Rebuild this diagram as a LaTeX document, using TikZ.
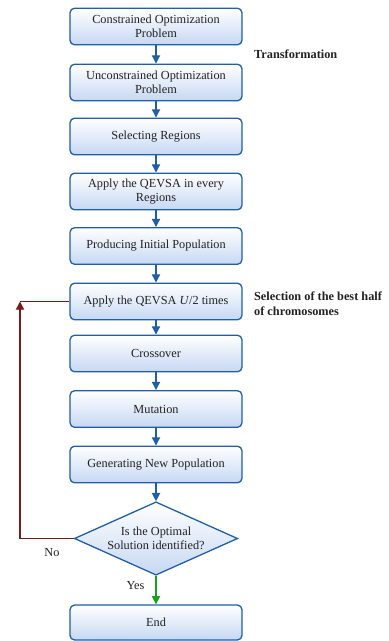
\documentclass[tikz,border=0pt]{standalone}
\usepackage{fontspec}
\setmainfont{Liberation Serif}
\usetikzlibrary{arrows.meta, positioning, shapes.geometric}
\definecolor{fcblue}{HTML}{1F5FA8}
\definecolor{fcfill}{HTML}{C6D8F3}
\definecolor{fcred}{HTML}{7B1A1A}
\definecolor{fcgreen}{HTML}{1E9E1E}
\definecolor{fctext}{HTML}{222222}

\begin{document}
\begin{tikzpicture}[
  x=0.03cm, y=-0.03cm,
  every node/.style={font=\fontsize{10.5}{12}\selectfont, text=fctext},
  sbox/.style={rectangle, rounded corners=4pt, draw=fcblue, line width=1.1pt, top color=white, bottom color=fcfill, minimum width=5.16cm, minimum height=1.1cm, align=center},
  dbox/.style={diamond, draw=fcblue, line width=1.1pt, top color=white, bottom color=fcfill, minimum width=4.9cm, minimum height=2.2cm, aspect=2.2, inner sep=0pt, align=center},
  flow/.style={-{Triangle[width=7pt,length=7pt]}, fcblue, line width=1.1pt},
  note/.style={font=\fontsize{10.5}{13}\selectfont\bfseries, anchor=west, align=left},
]
\useasboundingbox (0,0) rectangle (388,641);

% Main steps
\node[sbox] (s1) at (156, 26.5) {Constrained Optimization\\Problem};
\node[sbox] (s2) at (156, 82.5) {Unconstrained Optimization\\Problem};
\node[sbox] (s3) at (156, 136.5) {Selecting Regions};
\node[sbox] (s4) at (156, 191.5) {Apply the QEVSA in every\\Regions};
\node[sbox] (s5) at (156, 246) {Producing Initial Population};
\node[sbox] (s6) at (156, 301.5) {Apply the QEVSA \textit{U}/2 times};
\node[sbox] (s7) at (156, 353.5) {Crossover};
\node[sbox] (s8) at (156, 409) {Mutation};
\node[sbox] (s9) at (156, 464.5) {Generating New Population};

% Decision and end
\node[dbox] (dec) at (156, 538.5) {Is the Optimal\\Solution identified?};
\node[sbox, minimum height=1.05cm] (fin) at (156, 622.5) {End};

% Side notes
\node[note] (trans) at (250, 54) {Transformation};
\node[note] (sel) at (250, 304) {Selection of the best half\\of chromosomes};

% Connections
\draw[flow] (s1) -- (s2);
\draw[flow] (s2) -- (s3);
\draw[flow] (s3) -- (s4);
\draw[flow] (s4) -- (s5);
\draw[flow] (s5) -- (s6);
\draw[flow] (s6) -- (s7);
\draw[flow] (s7) -- (s8);
\draw[flow] (s8) -- (s9);
\draw[flow] (s9) -- (dec);
\draw[flow, fcgreen] (dec) -- node[left=6pt, pos=0.35] (yes) {Yes} (fin);

% Loop back
\coordinate (back) at (20, 301.5);
\draw[-{Triangle[width=7pt,length=7pt]}, fcred, line width=1.1pt] (dec.west) -- (back |- dec.west) -- (back);
\draw[fcred, line width=1.1pt] (back) -- (s6.west);
\node (no) at (52, 553) {No};

\end{tikzpicture}
\end{document}
